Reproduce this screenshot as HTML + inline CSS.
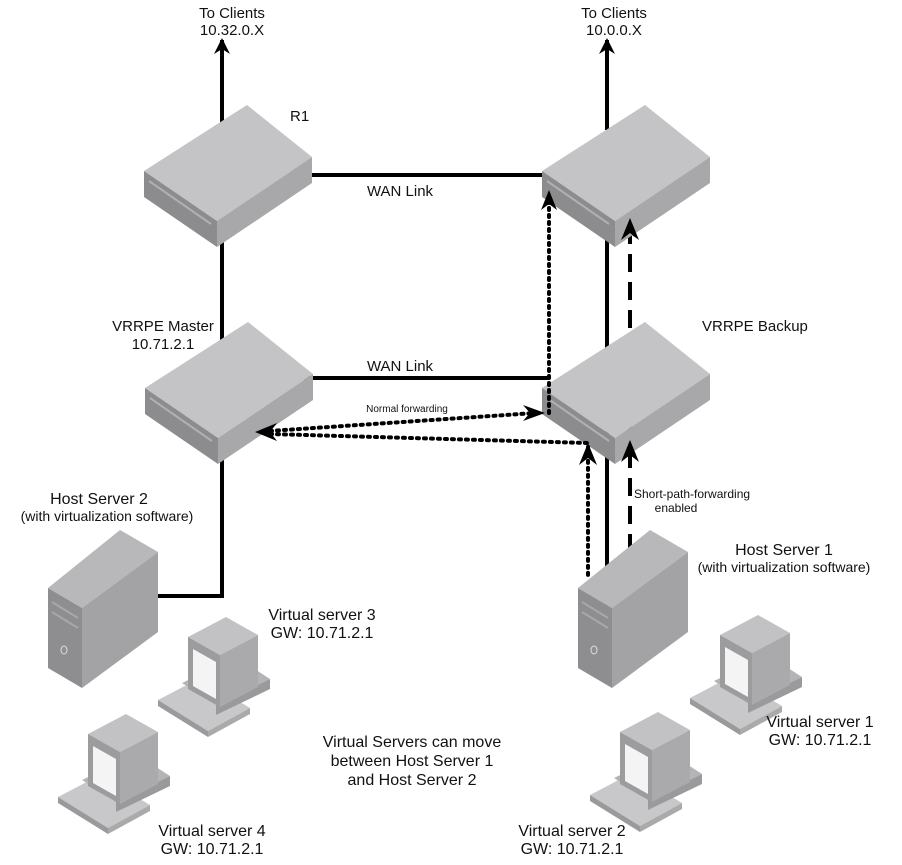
<!DOCTYPE html>
<html><head><meta charset="utf-8"><style>
body{margin:0;background:#fff;}
svg{display:block;}
text{font-family:"Liberation Sans",sans-serif;fill:#111;}
</style></head><body>
<svg width="902" height="865" viewBox="0 0 902 865" xmlns="http://www.w3.org/2000/svg">
<defs>
<g id="router">
<polygon points="0,0 65,52 -30,116 -103,66" fill="#c4c4c6"/>
<polygon points="-103,66 -30,116 -30,142 -103,92" fill="#8c8c8e"/>
<polygon points="-30,116 65,52 65,78 -30,142" fill="#a8a8aa"/>
<line x1="-98" y1="76" x2="-36" y2="119" stroke="#b0b0b0" stroke-width="2"/>
</g>
<g id="tower">
<polygon points="0,58 72,0 110,22 34,78" fill="#b8b8ba"/>
<polygon points="0,58 34,78 34,158 0,138" fill="#8e8e90"/>
<polygon points="34,78 110,22 110,102 34,158" fill="#a3a3a5"/>
<line x1="4" y1="72" x2="30" y2="88" stroke="#a8a8a8" stroke-width="2"/>
<line x1="4" y1="82" x2="30" y2="98" stroke="#a8a8a8" stroke-width="2"/>
<ellipse cx="16" cy="120" rx="3" ry="4" fill="none" stroke="#ddd"/>
</g>
<g id="pc">
<polygon points="0,95 42,73 92,103 50,126" fill="#c8c8ca"/>
<polygon points="0,95 50,126 50,132 0,101" fill="#9a9a9c"/>
<polygon points="50,126 92,103 92,109 50,132" fill="#aaa"/>
<polygon points="24,78 78,52 112,74 58,100" fill="#b4b4b6"/>
<polygon points="58,100 112,74 112,84 58,110" fill="#9a9a9c"/>
<polygon points="30,32 68,12 100,30 62,50" fill="#c2c2c4"/>
<polygon points="30,32 62,50 62,102 30,84" fill="#9c9c9e"/>
<polygon points="35,44 58,57 58,94 35,81" fill="#f4f4f4"/>
<polygon points="62,50 100,30 100,82 62,102" fill="#aaaaac"/>
</g>
<marker id="ahb" markerWidth="16" markerHeight="16" refX="14" refY="8" orient="auto" markerUnits="userSpaceOnUse" viewBox="0 0 16 16"><path d="M0,0 L16,8 L0,16 L5,8 Z" fill="#000"/></marker>
</defs>
<g stroke="#000" stroke-width="4" fill="none">
<line x1="222" y1="130" x2="222" y2="40" marker-end="url(#ahb)"/>
<line x1="607" y1="130" x2="607" y2="40" marker-end="url(#ahb)"/>
<line x1="300" y1="175" x2="545" y2="175"/>
<line x1="222" y1="230" x2="222" y2="340"/>
<line x1="300" y1="378" x2="548" y2="378"/>
<polyline points="222,450 222,596 150,596"/>
<line x1="607" y1="230" x2="607" y2="590"/>
<line x1="630" y1="580" x2="630" y2="225" stroke-dasharray="18,10" marker-end="url(#ahb)"/>
</g>
<use href="#router" x="247" y="105"/>
<use href="#router" x="645" y="105"/>
<use href="#router" x="248" y="322"/>
<use href="#router" x="645" y="322"/>
<g stroke="#000" stroke-width="4" fill="none" stroke-dasharray="2,5" stroke-linecap="round">
<line x1="549" y1="413" x2="549" y2="198"/>
<line x1="270" y1="431" x2="535" y2="413"/>
<polyline points="270,434 588,443 588,578"/>
</g>
<g fill="#000">
<path d="M549,190 l-8,20 l8,-6 l8,6 z"/>
<path d="M588,443 l-9,22 l9,-7 l9,7 z"/>
<path d="M630,440 l-9,22 l9,-7 l9,7 z"/>
<path d="M630,218 l-9,22 l9,-7 l9,7 z"/>
<path d="M255,432 l22,-9 l-7,9 l7,9 z"/>
<path d="M545,413 l-22,-8 l7,8 l-7,8 z"/>
</g>
<use href="#tower" x="48" y="530"/>
<use href="#tower" x="578" y="530"/>
<use href="#pc" x="158" y="605"/>
<use href="#pc" x="58" y="702"/>
<use href="#pc" x="690" y="603"/>
<use href="#pc" x="590" y="700"/>
<g font-size="15" text-anchor="middle">
<text x="232" y="18">To Clients</text><text x="232" y="35">10.32.0.X</text>
<text x="614" y="18">To Clients</text><text x="614" y="35">10.0.0.X</text>
<text x="290" y="121" text-anchor="start">R1</text>
<text x="400" y="196">WAN Link</text>
<text x="400" y="371">WAN Link</text>
<text x="163" y="331">VRRPE Master</text><text x="163" y="349">10.71.2.1</text>
<text x="702" y="331" text-anchor="start">VRRPE Backup</text>
<text x="407" y="412" font-size="10">Normal forwarding</text>
<text x="634" y="498" font-size="12" text-anchor="start">Short-path-forwarding</text>
<text x="676" y="512" font-size="12">enabled</text>
<text x="99" y="504" font-size="16">Host Server 2</text><text x="107" y="521" font-size="14">(with virtualization software)</text>
<text x="784" y="555" font-size="16">Host Server 1</text><text x="784" y="572" font-size="14">(with virtualization software)</text>
<text x="322" y="620" font-size="16">Virtual server 3</text><text x="322" y="638" font-size="16">GW: 10.71.2.1</text>
<text x="820" y="727" font-size="16">Virtual server 1</text><text x="820" y="745" font-size="16">GW: 10.71.2.1</text>
<text x="412" y="747" font-size="16">Virtual Servers can move</text><text x="412" y="766" font-size="16">between Host Server 1</text><text x="412" y="785" font-size="16">and Host Server 2</text>
<text x="212" y="836" font-size="16">Virtual server 4</text><text x="212" y="854" font-size="16">GW: 10.71.2.1</text>
<text x="572" y="836" font-size="16">Virtual server 2</text><text x="572" y="854" font-size="16">GW: 10.71.2.1</text>
</g>
</svg>
</body></html>
